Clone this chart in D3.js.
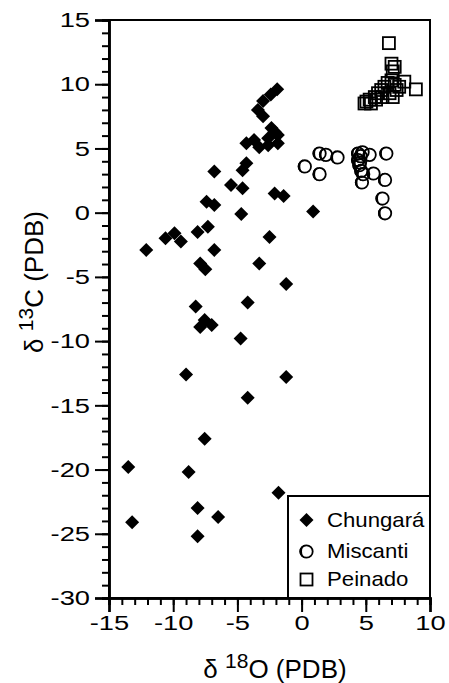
<!DOCTYPE html>
<html>
<head>
<meta charset="utf-8">
<script src="https://cdn.jsdelivr.net/npm/d3@7"></script>
<style>
  html, body { margin: 0; padding: 0; background: #fff; }
  svg { display: block; }
  text { font-family: "Liberation Sans", Arial, Helvetica, sans-serif; fill: #000; }
</style>
</head>
<body>
<svg id="chart" width="449" height="683"></svg>
<script>
// ---- Data (δ18O, δ13C) ----
const chungara = [
  [-1.9, 9.6], [-2.4, 9.2], [-3.0, 8.7], [-3.4, 8.0], [-3.0, 7.5],
  [-2.35, 6.6], [-2.1, 6.3], [-1.85, 6.05], [-1.85, 5.4], [-2.6, 5.8], [-3.3, 5.1],
  [-3.7, 5.65], [-4.3, 5.4], [-2.6, 5.25],
  [-4.3, 3.85], [-4.6, 3.3], [-6.8, 3.2], [-5.5, 2.15], [-4.6, 1.9], [-2.1, 1.5],
  [-1.4, 1.3], [-7.4, 0.85], [-6.8, 0.6], [-4.7, -0.1], [0.9, 0.1],
  [-8.1, -1.5], [-7.3, -1.1], [-2.5, -1.9], [-10.6, -2.0], [-9.9, -1.6], [-9.4, -2.25],
  [-12.1, -2.9], [-6.8, -2.9], [-7.9, -3.95], [-7.5, -4.4], [-3.3, -3.95], [-1.2, -5.55],
  [-4.2, -7.0], [-8.25, -7.3], [-7.55, -8.35], [-7.0, -8.75], [-7.9, -8.9], [-4.75, -9.8],
  [-9.0, -12.6], [-1.2, -12.8], [-4.2, -14.4], [-7.55, -17.6], [-13.5, -19.8], [-8.8, -20.2],
  [-1.8, -21.8], [-8.1, -23.0], [-6.5, -23.7], [-13.2, -24.1], [-8.1, -25.2]
];
const miscanti = [
  [1.4, 4.6], [1.9, 4.5], [2.8, 4.3], [0.25, 3.6], [1.4, 3.0], [4.4, 4.6], [4.75, 4.7],
  [5.3, 4.5], [6.6, 4.6], [4.6, 4.4], [4.4, 4.1], [4.55, 3.9], [4.5, 3.7], [4.65, 3.25],
  [4.8, 3.0], [5.6, 3.05], [4.7, 2.35], [6.5, 2.55], [6.3, 1.1], [6.5, -0.05]
];
const peinado = [
  [6.8, 13.2], [7.0, 11.6], [7.25, 11.35], [7.1, 11.0], [8.9, 9.6], [8.0, 10.2], [7.6, 9.8],
  [5.05, 8.65], [5.3, 8.8], [5.7, 9.0], [5.95, 9.3], [6.2, 9.55], [6.45, 9.8], [6.7, 10.1],
  [7.0, 10.3], [7.25, 9.95], [6.85, 9.3], [6.3, 9.0], [5.8, 8.8], [7.4, 9.55], [7.1, 9.0],
  [5.4, 8.5], [4.9, 8.5]
];
const xMajorTicks = [-15, -10, -5, 0, 5, 10];
const yMajorTicks = [-30, -25, -20, -15, -10, -5, 0, 5, 10, 15];
const legendLabels = ["Chungará", "Miscanti", "Peinado"];

// ---- Layout ----
const svg = d3.select("#chart");
const L = 109, R = 430, T = 20, B = 598;
const x = d3.scaleLinear().domain([-15, 10]).range([L, R]);
const y = d3.scaleLinear().domain([-30, 15]).range([B, T]);
const tickStretch = 1.3;

// frame
svg.append("rect").attr("x", L).attr("y", T).attr("width", R - L).attr("height", B - T)
  .attr("fill", "none").attr("stroke", "#000").attr("stroke-width", 2);

const fmt = d => String(d).replace("\u2212", "-");
const yMinor = d3.axisLeft(y).tickValues(d3.range(-30, 16, 1)).tickSize(7).tickFormat("");
const xMinor = d3.axisBottom(x).tickValues(d3.range(-15, 11, 1)).tickSize(7).tickFormat("");
const yMajor = d3.axisLeft(y).tickValues(yMajorTicks).tickSize(14).tickPadding(5).tickFormat(fmt);
const xMajor = d3.axisBottom(x).tickValues(xMajorTicks).tickSize(14).tickPadding(3).tickFormat(fmt);

function styleAxis(g) {
  g.select(".domain").attr("stroke", "#000").attr("stroke-width", 2.5);
  g.selectAll(".tick line").attr("stroke", "#000").attr("stroke-width", 2);
  g.selectAll(".tick text").style("font-size", "21px").attr("fill", "#000")
    .style("font-family", '"Liberation Sans", Arial, Helvetica, sans-serif')
    .each(function () {
      const t = d3.select(this);
      const x0 = +t.attr("x") || 0;
      t.attr("x", x0 / tickStretch).attr("transform", `scale(${tickStretch},1)`);
    });
}
svg.append("g").attr("transform", `translate(${L},0)`).call(yMinor).call(styleAxis);
svg.append("g").attr("transform", `translate(${L},0)`).call(yMajor).call(styleAxis);
svg.append("g").attr("transform", `translate(0,${B})`).call(xMinor).call(styleAxis);
svg.append("g").attr("transform", `translate(0,${B})`).call(xMajor).call(styleAxis);

// axis titles
const xt = svg.append("text").attr("x", 275).attr("y", 678).attr("text-anchor", "middle")
  .style("font-size", "26px");
xt.append("tspan").text("δ ");
xt.append("tspan").attr("dy", -10).style("font-size", "21px").text("18");
xt.append("tspan").attr("dy", 10).text("O (PDB)");

const yt = svg.append("text").attr("transform", "translate(43,282) rotate(-90)")
  .attr("text-anchor", "middle").style("font-size", "26px");
yt.append("tspan").text("δ ");
yt.append("tspan").attr("dy", -10).style("font-size", "21px").text("13");
yt.append("tspan").attr("dy", 10).text("C (PDB)");

// ---- Markers ----
const dia = 7;
const diamondPath = `M0,${-dia}L${dia},0L0,${dia}L${-dia},0Z`;
const cr = 6.2, cw = 2.6, co = cr + 0.9;
const crescentPath = `M0,${-co}A${co},${co} 0 0 0 0,${co}A${co - cw},${co} 0 0 1 0,${-co}Z`;
const sq = 12;

function drawDiamond(g) {
  g.append("path").attr("d", diamondPath).attr("fill", "#000");
}
function drawCircle(g) {
  g.append("circle").attr("r", cr).attr("fill", "none").attr("stroke", "#000").attr("stroke-width", 1.8);
  g.append("path").attr("d", crescentPath).attr("fill", "#000");
}
function drawSquare(g) {
  g.append("rect").attr("x", -sq / 2).attr("y", -sq / 2).attr("width", sq).attr("height", sq)
    .attr("fill", "none").attr("stroke", "#000").attr("stroke-width", 1.8);
}

const series = [
  { data: chungara, draw: drawDiamond },
  { data: miscanti, draw: drawCircle },
  { data: peinado, draw: drawSquare }
];
series.forEach(s => {
  svg.append("g").selectAll("g").data(s.data).join("g")
    .attr("transform", d => `translate(${x(d[0])},${y(d[1])})`)
    .each(function () { s.draw(d3.select(this)); });
});

// ---- Legend ----
const lg = svg.append("g");
lg.append("rect").attr("x", 288).attr("y", 496).attr("width", R - 288).attr("height", B - 496)
  .attr("fill", "#fff").attr("stroke", "#000").attr("stroke-width", 2);
const legendY = [520, 551.5, 579.5];
const legStretch = 1.11;
legendLabels.forEach((lab, i) => {
  const g = lg.append("g").attr("transform", `translate(306.5,${legendY[i]})`);
  series[i].draw(g);
  lg.append("text").attr("x", 327 / legStretch).attr("y", legendY[i] + 7)
    .attr("transform", `scale(${legStretch},1)`)
    .style("font-size", "20px").text(lab);
});
</script>
</body>
</html>
